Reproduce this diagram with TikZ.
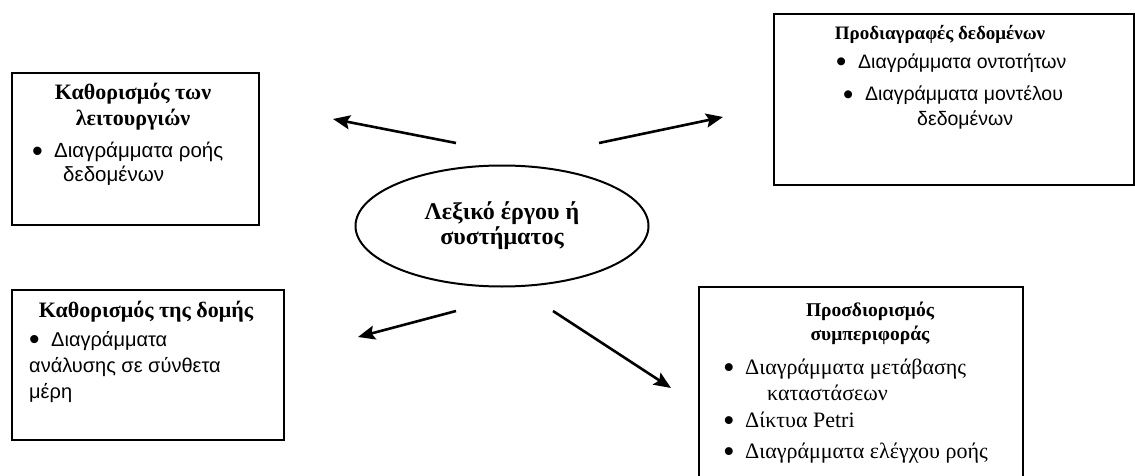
\documentclass[tikz,border=0pt]{standalone}
\usepackage{fontspec}
\setmainfont{Liberation Serif}
\setsansfont{Liberation Sans}
\usetikzlibrary{arrows.meta,shapes.geometric}

\tikzset{
  box/.style={draw, line width=2.2pt, anchor=north west, inner sep=0pt},
  head/.style={font=\fontsize{22}{26}\selectfont\bfseries, align=center, inner sep=0pt},
  item/.style={anchor=west, align=left, inner sep=0pt, font=\sffamily\fontsize{20}{25}\selectfont},
  link/.style={-{Stealth[length=17pt,width=14pt,inset=3pt]}, line width=2.6pt}
}
\newcommand{\bulletmark}{\makebox[22pt][l]{\smash{\raisebox{-0.17em}{\scalebox{1.5}{\textbullet}}}}}

\begin{document}
\begin{tikzpicture}[x=1pt,y=-1pt]
			\useasboundingbox (0,0) rectangle (1135,476);
			\clip (0,0) rectangle (1135,476);

			% boxes and the dictionary in the middle
			\node[box, minimum width=247pt, minimum height=152pt] (funcs) at (11,72) {};
			\node[box, minimum width=360pt, minimum height=171pt] (datasp) at (773,13) {};
			\node[box, minimum width=272pt, minimum height=150pt] (struct) at (11,289) {};
			\node[box, minimum width=324pt, minimum height=220pt] (behav) at (698,286) {};
			\node[draw, ellipse, line width=2pt, inner sep=0pt, minimum width=293pt, minimum height=121pt,
				font=\fontsize{24}{25}\selectfont\bfseries, align=center] (dict) at (502,226) {Λεξικό έργου ή\\συστήματος};

			\node[head] (funcsHead) at (133,107) {Καθορισμός των\\λειτουργιών};
			\node[item, font=\sffamily\fontsize{20.5}{24}\selectfont] (funcsItem) at (32,164) {\bulletmark Διαγράμματα ροής\\\hspace*{31pt}δεδομένων};

			\node[head, font=\fontsize{19}{24}\selectfont\bfseries] (dataspHead) at (940,34) {Προδιαγραφές δεδομένων};
			\node[item, font=\sffamily\fontsize{19.5}{25}\selectfont] (dataspItemA) at (836,63) {\bulletmark Διαγράμματα οντοτήτων};
			\node[item, font=\sffamily\fontsize{19.5}{25}\selectfont] (dataspItemB) at (843,108) {\bulletmark Διαγράμματα μοντέλου\\\hspace*{74pt}δεδομένων};

			\node[head] (structHead) at (146,312) {Καθορισμός της δομής};
			\node[item, font=\sffamily\fontsize{20}{26}\selectfont] (structItem) at (29,367) {\bulletmark Διαγράμματα\\ανάλυσης σε σύνθετα\\μέρη};

			\node[head, font=\fontsize{19.5}{24}\selectfont\bfseries] (behavHead) at (870,323) {Προσδιορισμός\\συμπεριφοράς};
			\node[item, font=\fontsize{22}{26}\selectfont] (behavItemA) at (723,380) {\bulletmark Διαγράμματα μετάβασης\\\hspace*{44pt}καταστάσεων};
			\node[item, font=\fontsize{22}{26}\selectfont] (behavItemB) at (723,420) {\bulletmark Δίκτυα Petri};
			\node[item, font=\fontsize{22}{26}\selectfont] (behavItemC) at (723,453) {\bulletmark Διαγράμματα ελέγχου ροής};

			% arrows, they do not touch the boxes
			\coordinate (tailFuncs) at (456,143);
			\coordinate (tipFuncs) at (333,119);
			\coordinate (tailDatasp) at (599,143);
			\coordinate (tipDatasp) at (723,117);
			\coordinate (tailStruct) at (456,311);
			\coordinate (tipStruct) at (358,337);
			\coordinate (tailBehav) at (553,311);
			\coordinate (tipBehav) at (671,388);

			\draw[link] (tailFuncs) -- (tipFuncs);
			\draw[link] (tailDatasp) -- (tipDatasp);
			\draw[link] (tailStruct) -- (tipStruct);
			\draw[link] (tailBehav) -- (tipBehav);
		\end{tikzpicture}
\end{document}
